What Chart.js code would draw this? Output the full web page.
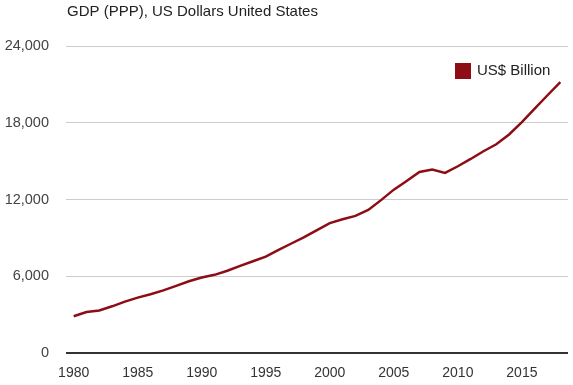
<!DOCTYPE html>
<html>
<head>
<meta charset="utf-8">
<script src="https://cdn.jsdelivr.net/npm/chart.js@4/dist/chart.umd.min.js"></script>
<style>
  html, body { margin: 0; padding: 0; background: #fff; }
  canvas { display: block; }
</style>
</head>
<body>
<canvas id="gdp-chart" width="573" height="385"></canvas>
<script>
const chartTitle = 'GDP (PPP), US Dollars United States';
const seriesLabel = 'US$ Billion';
const years = [1980, 1981, 1982, 1983, 1984, 1985, 1986, 1987, 1988, 1989,
               1990, 1991, 1992, 1993, 1994, 1995, 1996, 1997, 1998, 1999,
               2000, 2001, 2002, 2003, 2004, 2005, 2006, 2007, 2008, 2009,
               2010, 2011, 2012, 2013, 2014, 2015, 2016, 2017, 2018];
const gdpValues = [2870, 3200, 3330, 3650, 4020, 4330, 4590, 4900, 5250, 5610,
                   5900, 6110, 6430, 6810, 7170, 7540, 8060, 8560, 9060, 9610,
                   10150, 10450, 10720, 11180, 11950, 12770, 13450, 14150, 14350, 14080,
                   14600, 15170, 15770, 16320, 17080, 18050, 19100, 20150, 21180];
const xTickYears = [1980, 1985, 1990, 1995, 2000, 2005, 2010, 2015];
const yTickValues = [0, 6000, 12000, 18000, 24000];

const lineColor = '#8c0e14';
const fontFamily = 'Arial, "Liberation Sans", sans-serif';

// title and legend are drawn by hand so they sit where the original has them
const overlayPlugin = {
    id: 'overlay',
    afterDraw(chart) {
        const c = chart.ctx;
        const area = chart.chartArea;
        c.save();
        c.font = '15px ' + fontFamily;
        c.fillStyle = '#222';
        c.textBaseline = 'middle';
        c.textAlign = 'left';
        c.fillText(chartTitle, area.left + 1, 12);

        c.fillStyle = lineColor;
        c.fillRect(455, 63, 16, 16);
        c.fillStyle = '#222';
        c.font = '15px ' + fontFamily;
        c.fillText(chart.data.datasets[0].label, 477, 71);
        c.restore();
    }
};

let ctx = document.getElementById('gdp-chart').getContext('2d');

new Chart(ctx, {
    type: 'line',
    data: {
        datasets: [{
            label: seriesLabel,
            data: years.map((y, i) => ({ x: y, y: gdpValues[i] })),
            borderColor: lineColor,
            borderWidth: 2.5,
            pointRadius: 0,
            tension: 0,
            fill: false
        }]
    },
    options: {
        responsive: false,
        animation: false,
        layout: { padding: { top: 46, right: 5, left: 0, bottom: 0 } },
        plugins: {
            legend: { display: false },
            title: { display: false },
            tooltip: { enabled: false }
        },
        scales: {
            x: {
                type: 'linear',
                min: 1979.4,
                max: 2018.6,
                afterBuildTicks: scale => { scale.ticks = xTickYears.map(v => ({ value: v })); },
                afterFit: scale => { scale.height = 32; },
                grid: { display: false, drawTicks: false },
                border: { display: false },
                ticks: {
                    callback: v => String(v),
                    color: '#333',
                    font: { family: fontFamily, size: 14 },
                    padding: 12,
                    maxRotation: 0,
                    autoSkip: false
                }
            },
            y: {
                min: 0,
                max: 24000,
                afterBuildTicks: scale => { scale.ticks = yTickValues.map(v => ({ value: v })); },
                afterFit: scale => { scale.width = 66; },
                grid: {
                    drawTicks: false,
                    color: c => c.tick && c.tick.value === 0 ? '#333' : '#cccccc',
                    lineWidth: c => c.tick && c.tick.value === 0 ? 2 : 1
                },
                border: { display: false },
                ticks: {
                    callback: v => v.toLocaleString('en-US'),
                    color: '#444',
                    font: { family: fontFamily, size: 14.5 },
                    padding: 17
                }
            }
        }
    },
    plugins: [overlayPlugin]
});
</script>
</body>
</html>
